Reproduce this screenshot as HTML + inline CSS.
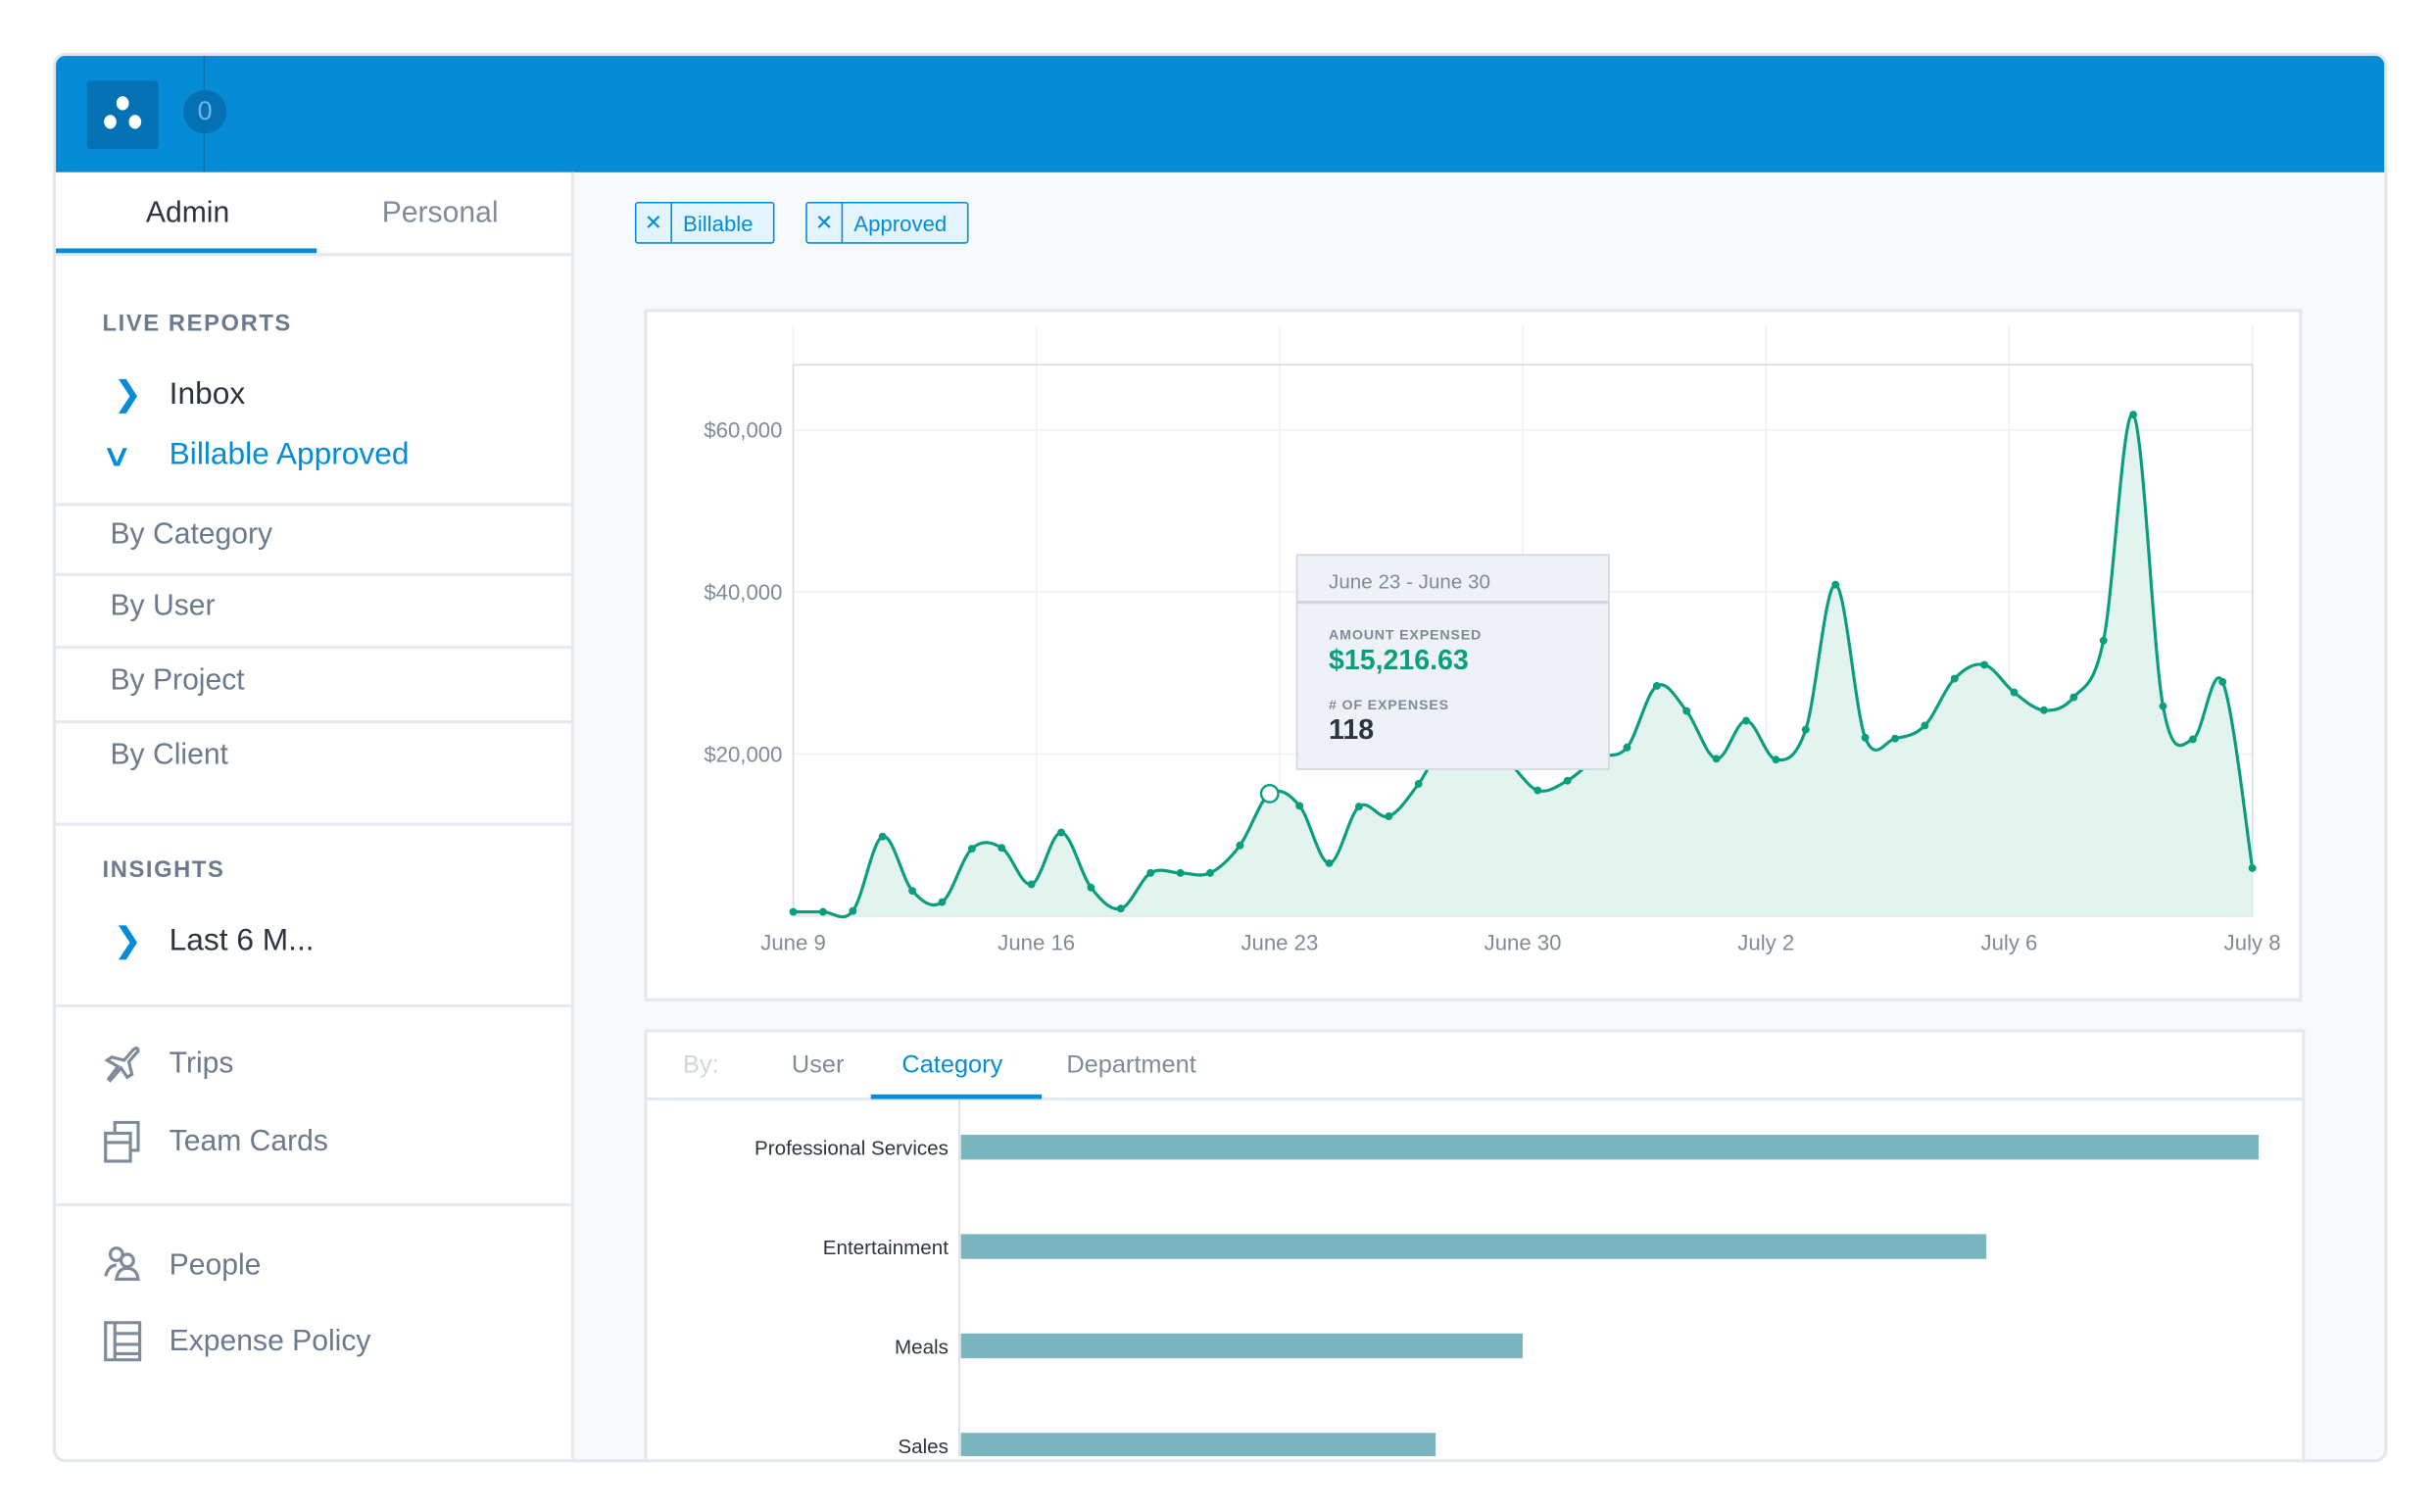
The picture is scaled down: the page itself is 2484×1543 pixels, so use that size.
<!DOCTYPE html>
<html><head><meta charset="utf-8">
<style>
html,body{margin:0;padding:0;background:#fff;width:2484px;height:1542px;overflow:hidden;}
#root{position:absolute;left:0;top:0;width:1568px;height:974px;transform:scale(1.58418);transform-origin:0 0;font-family:"Liberation Sans",sans-serif;}
.abs{position:absolute;}
.frame{left:34px;top:34px;width:1500px;height:904px;border:2px solid #e3e8ee;border-radius:8px;background:#f7f9fb;overflow:hidden;}
.side{color:#6b7a8c;font-size:19px;}
.div{position:absolute;left:0;width:332px;height:2px;background:#e6eaef;}
</style></head><body>
<div id="root">
<div class="abs frame">
  <div class="abs" style="left:0;top:0;width:1500px;height:75px;background:#068cd6">
    <div class="abs" style="left:20px;top:16px;width:46px;height:44px;background:#0571b5;border-radius:2px">
      <div class="abs" style="left:19px;top:10px;width:8px;height:9px;border-radius:50%;background:#fff"></div>
      <div class="abs" style="left:11px;top:22px;width:8px;height:9px;border-radius:50%;background:#fff"></div>
      <div class="abs" style="left:27px;top:22px;width:8px;height:9px;border-radius:50%;background:#fff"></div>
    </div>
    <div class="abs" style="left:95px;top:0;width:1px;height:75px;background:#0570b0"></div>
    <div class="abs" style="left:82px;top:22px;width:28px;height:28px;border-radius:50%;background:#0571b5;color:#6fb6e6;font-size:17px;text-align:center;line-height:28px">0</div>
  </div>
  <div class="abs" style="left:0;top:75px;width:332px;height:830px;background:#fff;border-right:2px solid #e6eaef">
    <div class="abs" style="left:58px;top:16px;font-size:19px;color:#2c3440">Admin</div>
    <div class="abs" style="left:210px;top:16px;font-size:19px;color:#7f8b99">Personal</div>
    <div class="abs" style="left:0;top:49px;width:168px;height:4px;background:#068cd6"></div>
    <div class="div" style="top:52px"></div>
    <div class="abs" style="left:30px;top:89px;font-size:15px;font-weight:bold;color:#6b7a8c;letter-spacing:1px">LIVE REPORTS</div>
    <div class="abs" style="left:37px;top:130px;font-size:22px;color:#068cd6">&#x276F;</div>
    <div class="abs" style="left:73px;top:132px;font-size:20px;color:#2c3440">Inbox</div>
    <div class="abs" style="left:32px;top:170px;font-size:20px;color:#068cd6;transform:scaleX(1.4)">&#x2228;</div>
    <div class="abs" style="left:73px;top:171px;font-size:20px;color:#068cd6">Billable Approved</div>
    <div class="div" style="top:213px"></div>
    <div class="abs side" style="left:35px;top:223px">By Category</div>
    <div class="div" style="top:258px"></div>
    <div class="abs side" style="left:35px;top:269px">By User</div>
    <div class="div" style="top:305px"></div>
    <div class="abs side" style="left:35px;top:317px">By Project</div>
    <div class="div" style="top:353px"></div>
    <div class="abs side" style="left:35px;top:365px">By Client</div>
    <div class="div" style="top:419px"></div>
    <div class="abs" style="left:30px;top:441px;font-size:15px;font-weight:bold;color:#6b7a8c;letter-spacing:1px">INSIGHTS</div>
    <div class="abs" style="left:37px;top:482px;font-size:22px;color:#068cd6">&#x276F;</div>
    <div class="abs" style="left:73px;top:484px;font-size:20px;color:#2c3440">Last 6 M...</div>
    <div class="div" style="top:536px"></div>
    <svg class="abs" style="left:30px;top:562px" width="26" height="26"><path d="M4 22 L10 14 L3 10 L6 8 L14 10 L20 3 Q23 1 23 4 L17 11 L19 19 L16 21 L12 15 L5 23 Z" fill="none" stroke="#7f8b99" stroke-width="2"/></svg>
    <div class="abs side" style="left:73px;top:564px">Trips</div>
    <svg class="abs" style="left:30px;top:611px" width="26" height="28"><rect x="8" y="1" width="15" height="18" fill="none" stroke="#7f8b99" stroke-width="2"/><rect x="2" y="8" width="16" height="18" fill="#fff" stroke="#7f8b99" stroke-width="2"/><line x1="2" y1="14" x2="18" y2="14" stroke="#7f8b99" stroke-width="2"/></svg>
    <div class="abs side" style="left:73px;top:614px">Team Cards</div>
    <div class="div" style="top:664px"></div>
    <svg class="abs" style="left:30px;top:691px" width="26" height="26"><circle cx="9" cy="6" r="4" fill="none" stroke="#7f8b99" stroke-width="2"/><circle cx="16" cy="10" r="4" fill="none" stroke="#7f8b99" stroke-width="2"/><path d="M2 20 Q4 13 9 13 M9 22 Q10 15 16 15 Q22 15 23 22 Z" fill="none" stroke="#7f8b99" stroke-width="2"/></svg>
    <div class="abs side" style="left:73px;top:694px">People</div>
    <svg class="abs" style="left:30px;top:740px" width="26" height="26"><rect x="2" y="1" width="22" height="24" fill="none" stroke="#7f8b99" stroke-width="2"/><path d="M8 1 V25 M8 8 H24 M8 15 H24 M8 21 H24" stroke="#7f8b99" stroke-width="2"/></svg>
    <div class="abs side" style="left:73px;top:743px">Expense Policy</div>
  </div>
  <div class="abs" style="left:373px;top:94px;width:88px;height:25px;border:1px solid #068cd6;border-radius:2px;background:#e3f4fd;color:#068cd6;font-size:14px"><span class="abs" style="left:0;top:0;width:22px;height:25px;border-right:1px solid #068cd6;text-align:center;line-height:25px">✕</span><span class="abs" style="left:30px;top:5px">Billable</span></div>
  <div class="abs" style="left:483px;top:94px;width:103px;height:25px;border:1px solid #068cd6;border-radius:2px;background:#e3f4fd;color:#068cd6;font-size:14px"><span class="abs" style="left:0;top:0;width:22px;height:25px;border-right:1px solid #068cd6;text-align:center;line-height:25px">✕</span><span class="abs" style="left:30px;top:5px">Approved</span></div>
  <div class="abs" style="left:379px;top:627px;width:1066px;height:290px;background:#fff;border:2px solid #e3e8ee">
    <div class="abs" style="left:23px;top:13px;font-size:16px;color:#cfd6de">By:</div>
    <div class="abs" style="left:93px;top:13px;font-size:16px;color:#7f8b99">User</div>
    <div class="abs" style="left:164px;top:13px;font-size:16px;color:#068cd6">Category</div>
    <div class="abs" style="left:270px;top:13px;font-size:16px;color:#7f8b99">Department</div>
    <div class="abs" style="left:0;top:42px;width:1066px;height:2px;background:#e3e8ee"></div>
    <div class="abs" style="left:144px;top:40px;width:110px;height:3px;background:#068cd6"></div>
  </div>
</div>
<svg id="chart" class="abs" style="left:0;top:0" width="1568" height="974"></svg>
<div class="abs" style="left:835px;top:357px;width:200px;height:137px;background:#eef2f6;border:1px solid #cfd6de">
  <div class="abs" style="left:20px;top:9px;font-size:13px;color:#7f8b99">June 23 - June 30</div>
  <div class="abs" style="left:0;top:29px;width:200px;height:2px;background:#cfd6de"></div>
  <div class="abs" style="left:20px;top:46px;font-size:9px;font-weight:bold;color:#7f8b99;letter-spacing:.5px">AMOUNT EXPENSED</div>
  <div class="abs" style="left:20px;top:57px;font-size:18px;font-weight:bold;color:#0a9e7d">$15,216.63</div>
  <div class="abs" style="left:20px;top:91px;font-size:9px;font-weight:bold;color:#7f8b99;letter-spacing:.5px"># OF EXPENSES</div>
  <div class="abs" style="left:20px;top:102px;font-size:18px;font-weight:bold;color:#2c3440">118</div>
</div>
<svg id="bars" class="abs" style="left:0;top:0" width="1568" height="938"></svg>
</div>
<script>
const xLabels=["June 9","June 16","June 23","June 30","July 2","July 6","July 8"];
const yTicks=[20000,40000,60000];
const values=[0.5,0.5,0.6,9.8,3.1,1.7,8.3,8.4,3.9,10.3,3.5,0.9,5.3,5.3,5.3,8.7,15.1,13.6,6.5,13.5,12.3,16.3,22,21,19,15.5,16.7,19.5,20.8,28.4,25.3,19.4,24.1,19.3,23,40.9,22,21.9,23.5,29.3,31,27.6,25.4,27,34,61.9,25.9,21.8,28.9,5.9];
const highlightIndex=16;
const categories=["Professional Services","Entertainment","Meals","Sales"];
const amounts=[82000,64800,35500,30000];

const NS="http://www.w3.org/2000/svg";
function mk(p,t,a){const e=document.createElementNS(NS,t);for(const k in a)e.setAttribute(k,a[k]);p.appendChild(e);return e;}
const svg=document.getElementById('chart');
const L=511,R=1451,T=235,B=590;
const xs=i=>L+(R-L)*i/(values.length-1);
const ys=v=>B-(B-277)*v/60;
let c=mk(svg,'rect',{x:416,y:200,width:1066,height:444,fill:'#fff',stroke:'#e3e8ee','stroke-width':2});


xLabels.forEach((l,i)=>{const x=L+(R-L)*i/(xLabels.length-1);
 mk(svg,'line',{x1:x,y1:210,x2:x,y2:B,stroke:'#eef1f4'});
 const t=mk(svg,'text',{x:x,y:612,'text-anchor':'middle','font-size':14,fill:'#7f8b99'});t.textContent=l;
 
 });
yTicks.forEach(v=>{const y=ys(v/1000);
 mk(svg,'line',{x1:L,y1:y,x2:R,y2:y,stroke:'#eef1f4'});
 const t=mk(svg,'text',{x:504,y:y+5,'text-anchor':'end','font-size':14,fill:'#7f8b99'});t.textContent='$'+v.toLocaleString('en-US');
 
 });
mk(svg,'rect',{x:L,y:T,width:R-L,height:B-T,fill:'none',stroke:'#d5dce4'});
const pts=values.map((v,i)=>[xs(i),ys(v)]);
let d='M'+pts[0][0]+','+pts[0][1];
for(let i=0;i<pts.length-1;i++){const p0=pts[Math.max(0,i-1)],p1=pts[i],p2=pts[i+1],p3=pts[Math.min(pts.length-1,i+2)];const k=0.17;
 d+=` C${p1[0]+(p2[0]-p0[0])*k},${p1[1]+(p2[1]-p0[1])*k} ${p2[0]-(p3[0]-p1[0])*k},${p2[1]-(p3[1]-p1[1])*k} ${p2[0]},${p2[1]}`;}
const area=mk(svg,'path',{d:d+` L${R},${B} L${L},${B} Z`,fill:'#e3f4ef'});


const line=mk(svg,'path',{d:d,fill:'none',stroke:'#0a9e7d','stroke-width':2});


pts.forEach((p,i)=>{const h=i===highlightIndex;
 const e=mk(svg,'circle',{cx:p[0],cy:p[1],r:h?5.5:2.5,fill:h?'#fff':'#0a9e7d',stroke:'#0a9e7d','stroke-width':h?1.5:0});
 
 });
const bs=document.getElementById('bars');
const BL=618,BW=836,maxA=82000;
mk(bs,'line',{x1:BL,y1:708,x2:BL,y2:938,stroke:'#d5dce4'});
categories.forEach((cname,i)=>{const y=731+i*64;
 const r=mk(bs,'rect',{x:BL+1,y:y,width:BW*amounts[i]/maxA,height:16,fill:'#7ab5bf'});
 
 
 const t=mk(bs,'text',{x:611,y:y+13,'text-anchor':'end','font-size':13,fill:'#2c3440'});t.textContent=cname;
 
 });
</script>
</body></html>
